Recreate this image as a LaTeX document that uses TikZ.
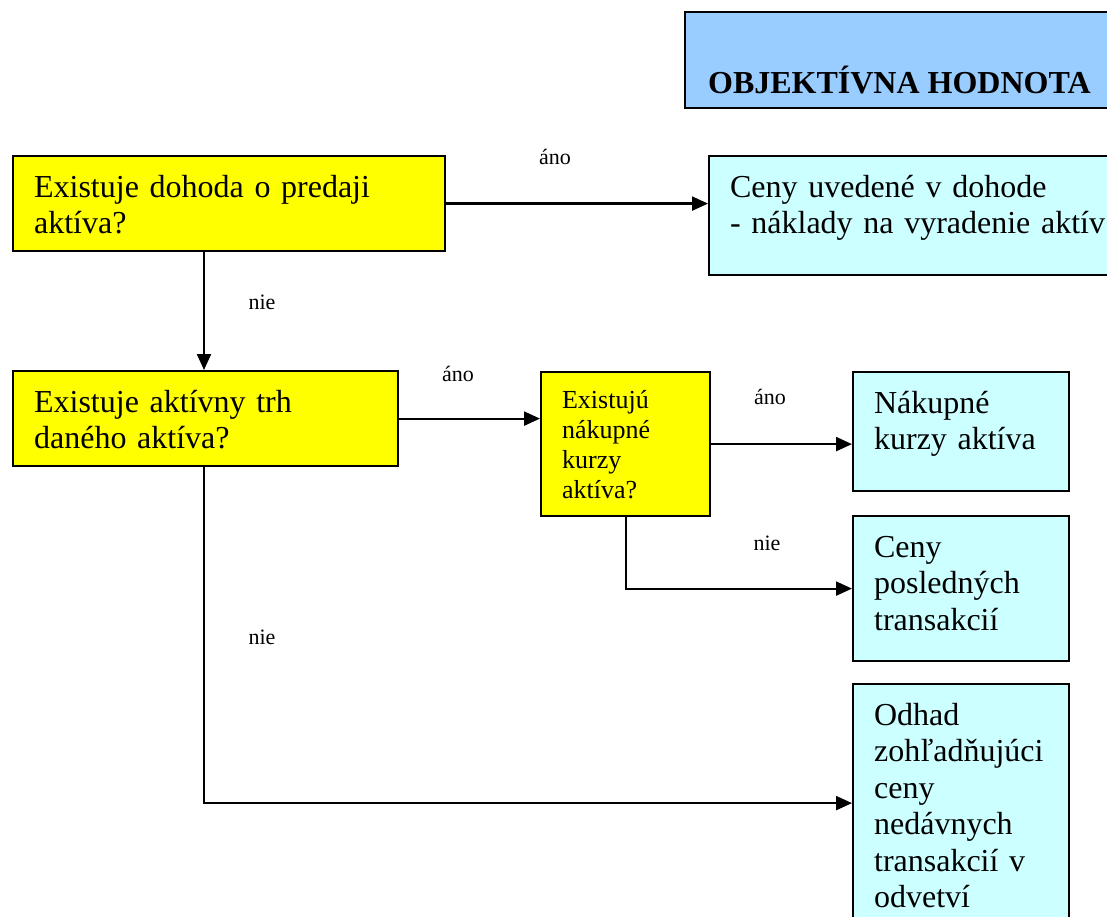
\documentclass[tikz,border=0pt]{standalone}
\usepackage{fontspec}
\setmainfont{Liberation Serif}
\usetikzlibrary{arrows.meta}
\definecolor{otazka}{HTML}{FFFF00}
\definecolor{vysledok}{HTML}{CCFFFF}
\definecolor{nadpis}{HTML}{99CCFF}

\begin{document}
\begin{tikzpicture}[x=1pt,y=-1pt,
    box/.style={draw=black, line width=2.2pt, anchor=north west, align=left,
      inner xsep=21pt, inner ysep=0pt, text height=41pt,
      font=\fontsize{32}{36.5}\selectfont},
    qbox/.style={box, fill=otazka},
    abox/.style={box, fill=vysledok},
    spoj/.style={line width=2.2pt, -{Triangle[length=16pt,width=14pt]}},
    popis/.style={font=\fontsize{22}{26}\selectfont}]
      \useasboundingbox (0,0) rectangle (1107,917);
      \clip (0,0) rectangle (1107,917);
      % nadpis
      \node[box, fill=nadpis, inner xsep=23pt, text height=81pt, text depth=15pt,
        font=\bfseries\fontsize{32}{36.5}\selectfont] (nadpis) at (684,11) {OBJEKTÍVNA HODNOTA};
      % otazky
      \node[qbox, text width=390pt, text depth=54pt] (dohoda) at (12,155) {Existuje dohoda o predaji\\aktíva?};
      \node[qbox, text width=343pt, text depth=54pt] (trh) at (12,370) {Existuje aktívny trh\\daného aktíva?};
      \node[qbox, text width=127pt, text height=36pt, text depth=108pt,
        font=\fontsize{26}{30}\selectfont] (kurzy) at (540,371) {Existujú\\nákupné\\kurzy\\aktíva?};
      % vysledky
      \node[abox, text width=380pt, text depth=78pt] (ceny) at (708,155) {Ceny uvedené v dohode\\- náklady na vyradenie aktív};
      \node[abox, text width=174pt, text depth=78pt] (nakup) at (852,371) {Nákupné\\kurzy aktíva};
      \node[abox, text width=174pt, text depth=104pt] (posled) at (852,515) {Ceny\\posledných\\transakcií};
      \node[abox, text width=174pt, text depth=197pt] (odhad) at (852,683) {Odhad\\zohľadňujúci\\ceny\\nedávnych\\transakcií v\\odvetví};
      \coordinate (kmen) at (204,0);
      % spojnice
      \draw[spoj] (dohoda.east) -- (dohoda.east -| ceny.west);
      \draw[spoj] (dohoda.south -| kmen) -- (trh.north -| kmen);
      \draw[spoj] (trh.east) -- (trh.east -| kurzy.west);
      \draw[spoj] (kurzy.east) -- (kurzy.east -| nakup.west);
      \draw[spoj] (kurzy.south) |- (posled.west);
      \draw[spoj] (trh.south -| kmen) |- (odhad.west);
      % popisy
      \node[popis] (ano1) at (555,157) {áno};
      \node[popis] (nie1) at (262,302) {nie};
      \node[popis] (ano2) at (458,374) {áno};
      \node[popis] (ano3) at (770,397) {áno};
      \node[popis] (nie2) at (767,543) {nie};
      \node[popis] (nie3) at (262,637) {nie};
    \end{tikzpicture}
\end{document}
